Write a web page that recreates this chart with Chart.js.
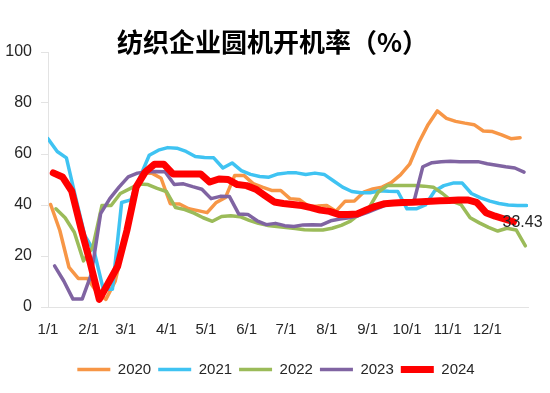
<!DOCTYPE html>
<html>
<head>
<meta charset="utf-8">
<script src="https://cdn.jsdelivr.net/npm/chart.js@4.4.1/dist/chart.umd.min.js"></script>
<style>
    html, body { margin: 0; padding: 0; background: #fff; }
    #wrap { width: 550px; height: 393px; position: relative; }
</style>
</head>
<body>
<div id="wrap"><canvas id="rateChart"></canvas></div>
<script>
// Month ticks (day of year) and labels
const monthDays = [0, 31, 59, 90, 120, 151, 181, 212, 243, 273, 304, 334];
const monthLabels = ['1/1', '2/1', '3/1', '4/1', '5/1', '6/1', '7/1', '8/1', '9/1', '10/1', '11/1', '12/1'];

const years = ['2020', '2021', '2022', '2023', '2024'];
// first weekly reading of each year (day of year)
const startDays = [2, 0, 6, 5, 4];
const colors = ['#F79646', '#3FC3F2', '#9BBB59', '#8064A2', '#FF0000'];

// Weekly circular loom operating rate (%)
const rate2020 = [40.2, 30, 15.5, 11.2, 11.2, 6, 3, 10, 25, 45, 52.5, 52.5, 50.5, 40.5, 40.4, 38.5, 37.8, 37,
    41, 43, 51.6, 51.6, 48.4, 47, 45.7, 45.7, 42.5, 42.2, 39.5, 39.6, 39.8, 37.6, 41.5, 41.6, 45, 46.3, 47, 48.8,
    51.8, 56, 64.5, 71.5, 76.9, 74, 72.8, 72.1, 71.5, 69, 68.8, 67.5, 66, 66.4];
const rate2021 = [66, 61, 58.5, 43, 28, 22, 7, 7, 41, 42, 51, 59.5, 61.5, 62.5, 62.3, 61, 59, 58.6, 58.5, 54.5,
    56.5, 53.5, 52, 51.2, 50.9, 52.2, 52.6, 52.6, 52, 52.5, 52, 49.5, 47, 45.3, 44.8, 44.8, 45.6, 45.4, 45.3,
    38.5, 38.5, 40, 45.5, 47.6, 48.6, 48.6, 44.5, 42.8, 41.5, 40.6, 40, 39.8, 39.8];
const rate2022 = [38.5, 35, 29.3, 18.1, 23.4, 39.8, 39.8, 44.5, 46.3, 48.2, 48, 46.5, 45.3, 39, 38.2, 36.8, 35,
    33.6, 35.5, 35.8, 35.4, 34, 32.8, 32, 31.6, 31.2, 30.8, 30.3, 30.2, 30.2, 30.9, 32, 33.7, 36.5, 38.8, 45,
    47.6, 47.6, 47.6, 47.6, 47.4, 47, 44.5, 41.5, 40.2, 35, 33, 31.2, 29.8, 30.9, 30.2, 24];
const rate2023 = [16.1, 10.2, 3.1, 3.1, 13, 36.6, 42.5, 47, 51, 52.5, 53, 53.1, 53, 48, 48.3, 47.2, 46.2, 42.5,
    43.4, 43.3, 36.5, 36.3, 33.8, 32.3, 32.8, 31.9, 31.6, 32.2, 32.3, 32.2, 33.8, 34.5, 35, 35.8, 37.1, 38.6,
    40, 40.8, 41.1, 40.8, 55, 56.6, 57, 57.2, 57, 57, 57, 56.2, 55.6, 55, 54.5, 52.9];
const rate2024 = [52.6, 51, 45.5, 31, 17.5, 3, 9.5, 16, 30, 47, 53, 56, 56, 52.2, 52.2, 52.2, 52.2, 49, 50.2, 50,
    48, 47.6, 46.2, 43.7, 41.2, 40.6, 40.2, 39.8, 39, 38, 37.5, 36.3, 36.3, 36.5, 38, 39.5, 40.5, 40.8, 41, 41.1,
    41.3, 41.5, 41.7, 41.8, 42, 42, 41, 37, 35.6, 34.5, 33.43];

const allRates = [rate2020, rate2021, rate2022, rate2023, rate2024];

function weekly(values, start) {
    return values.map((v, i) => ({ x: start + i * 7, y: v }));
}

const textColor = '#262626';
const axisColor = '#E3E3E3';
const baseFont = 'Liberation Sans, Arial, sans-serif';

// Title + last value label, legend nudged to the right
const extrasPlugin = {
    id: 'extras',
    afterLayout(chart) {
        chart.legend.left += 12;
        chart.legend.right += 12;
    },
    afterDraw(chart) {
        const ctx = chart.ctx;
        ctx.save();
        ctx.fillStyle = '#000';
        ctx.font = 'bold 26px "Noto Sans CJK SC", sans-serif';
        ctx.textAlign = 'left';
        ctx.textBaseline = 'middle';
        ctx.fillText('纺织企业圆机开机率（%）', 117, 42);

        const meta = chart.getDatasetMeta(4);
        const last = meta.data[meta.data.length - 1];
        ctx.fillStyle = textColor;
        ctx.font = '16px ' + baseFont;
        ctx.fillText(rate2024[rate2024.length - 1].toFixed(2), last.x - 11, last.y + 1);
        ctx.restore();
    }
};

const ctx = document.getElementById('rateChart').getContext('2d');
new Chart(ctx, {
    type: 'line',
    data: {
        datasets: years.map((yr, i) => ({
            label: yr,
            data: weekly(allRates[i], startDays[i]),
            borderColor: colors[i],
            backgroundColor: colors[i],
            borderWidth: i === 4 ? 7 : 3.5,
            borderCapStyle: 'round',
            borderJoinStyle: 'round',
            pointRadius: 0,
            tension: 0,
            order: 4 - i
        }))
    },
    options: {
        responsive: true,
        maintainAspectRatio: false,
        animation: false,
        layout: { padding: { top: 52, right: 22, left: 0, bottom: 6 } },
        plugins: {
            title: { display: false },
            tooltip: { enabled: false },
            legend: {
                position: 'bottom',
                labels: {
                    usePointStyle: true,
                    pointStyle: 'line',
                    pointStyleWidth: 33,
                    boxHeight: 15,
                    padding: 7,
                    color: textColor,
                    font: { family: baseFont, size: 15 },
                    sort: (a, b) => a.datasetIndex - b.datasetIndex
                }
            }
        },
        scales: {
            x: {
                type: 'linear',
                min: 0,
                max: 365,
                afterBuildTicks: scale => {
                    scale.ticks = monthDays.map(v => ({ value: v }));
                },
                afterFit: scale => { scale.height = 48; },
                ticks: {
                    autoSkip: false,
                    maxRotation: 0,
                    padding: 14,
                    color: textColor,
                    font: { family: baseFont, size: 15 },
                    callback: v => monthLabels[monthDays.indexOf(v)]
                },
                grid: { drawOnChartArea: false, drawTicks: false },
                border: { color: axisColor }
            },
            y: {
                min: 0,
                max: 100,
                afterFit: scale => { scale.width = 48; },
                ticks: {
                    stepSize: 20,
                    padding: 9,
                    color: textColor,
                    font: { family: baseFont, size: 16 }
                },
                grid: { drawOnChartArea: false, tickLength: 7, color: axisColor },
                border: { color: axisColor }
            }
        }
    },
    plugins: [extrasPlugin]
});
</script>
</body>
</html>
